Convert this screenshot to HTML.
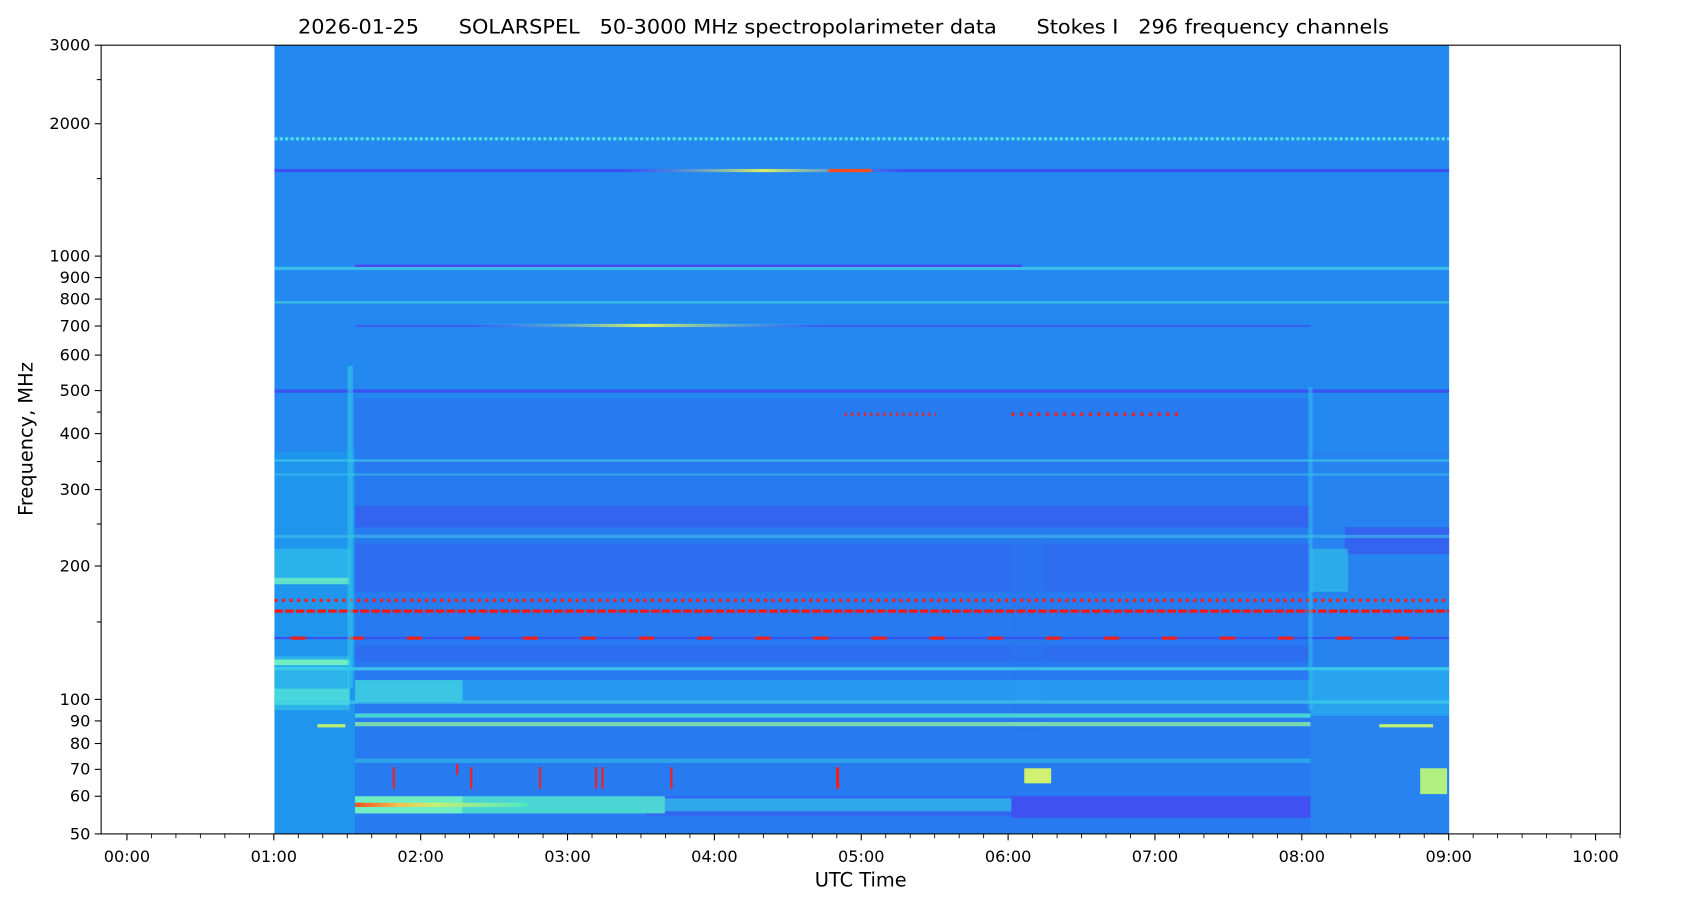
<!DOCTYPE html>
<html><head><meta charset="utf-8"><style>
html,body{margin:0;padding:0;background:#fff;}
svg{display:block;}
text{font-family:"DejaVu Sans","Liberation Sans",sans-serif;fill:#000;}
</style></head><body>
<svg width="1687" height="906" viewBox="0 0 1568 842" preserveAspectRatio="none" xmlns="http://www.w3.org/2000/svg">
<defs>
<clipPath id="c"><rect x="255" y="42" width="1092" height="733"/></clipPath>
<linearGradient id="hb" x1="0" x2="1" y1="0" y2="0">
<stop offset="0" stop-color="#f05020"/><stop offset="0.25" stop-color="#f0c050"/><stop offset="0.45" stop-color="#c8f070"/><stop offset="1" stop-color="#50e8c0"/>
</linearGradient>
<linearGradient id="yl" x1="0" x2="1"><stop offset="0" stop-color="#3fd0f0" stop-opacity="0"/><stop offset="0.5" stop-color="#d8f060"/><stop offset="1" stop-color="#3fd0f0" stop-opacity="0"/></linearGradient>
</defs>
<g clip-path="url(#c)">
<rect x="255" y="42" width="1092" height="733" fill="#2389f0"/>
<rect x="330" y="370" width="888" height="405" fill="#2a72f0" opacity="0.65"/>
<rect x="255" y="420" width="75" height="355" fill="#1f98ee" opacity="0.8"/>
<rect x="1218" y="420" width="129" height="355" fill="#2a7ef0" opacity="0.6"/>
<rect x="330" y="470" width="888" height="20" fill="#3a55f0" opacity="0.6"/>
<rect x="330" y="505" width="888" height="45" fill="#3460f0" opacity="0.5"/>
<rect x="1250" y="490" width="97" height="25" fill="#3a55f0" opacity="0.7"/>
<rect x="330" y="600" width="888" height="15" fill="#3460f0" opacity="0.5"/>
<rect x="940" y="740" width="278" height="20" fill="#4a40f0" opacity="0.7"/>
<rect x="600" y="740" width="340" height="18" fill="#3a58f0" opacity="0.6"/>
<rect x="940" y="500" width="30" height="180" fill="#2a78f0" opacity="0.5"/>
<rect x="255" y="510" width="70" height="30" fill="#30c8e8" opacity="0.6"/>
<rect x="255" y="537" width="70" height="6" fill="#70f0c0" opacity="0.8"/>
<rect x="255" y="610" width="70" height="50" fill="#30c0e8" opacity="0.7"/>
<rect x="255" y="613" width="70" height="5" fill="#70f0c0"/>
<rect x="255" y="640" width="70" height="15" fill="#50e0d8" opacity="0.8"/>
<rect x="330" y="632" width="100" height="20" fill="#40d8e0" opacity="0.8"/>
<rect x="430" y="632" width="788" height="20" fill="#28a0f0" opacity="0.8"/>
<rect x="1218" y="510" width="35" height="40" fill="#30c8e8" opacity="0.6"/>
<rect x="1218" y="620" width="129" height="45" fill="#28b0f0" opacity="0.7"/>
<line x1="255" x2="1347" y1="129" y2="129" stroke="#50e0e0" stroke-width="3" stroke-dasharray="3 2"/>
<rect x="255" y="157" width="1092" height="3" fill="#3a50f0"/>
<rect x="580" y="157" width="260" height="3" fill="url(#yl)"/>
<rect x="770" y="157" width="40" height="3" fill="#f05020"/>
<rect x="255" y="248" width="1092" height="3" fill="#40c8e8" opacity="0.8"/>
<rect x="330" y="246" width="620" height="2" fill="#5040f0"/>
<rect x="255" y="280" width="1092" height="2" fill="#40d0e0" opacity="0.8"/>
<rect x="330" y="302" width="888" height="2" fill="#3a60f0"/>
<rect x="440" y="301" width="320" height="3" fill="url(#yl)"/>
<rect x="255" y="362" width="1092" height="3" fill="#3a50f0"/>
<line x1="785" x2="870" y1="385" y2="385" stroke="#f02020" stroke-width="3" stroke-dasharray="2 4"/>
<line x1="940" x2="1100" y1="385" y2="385" stroke="#f02020" stroke-width="3" stroke-dasharray="3 5"/>
<rect x="255" y="427" width="1092" height="2" fill="#40d0e8" opacity="0.7"/>
<rect x="255" y="440" width="1092" height="2" fill="#40d0e8" opacity="0.5"/>
<rect x="255" y="497" width="1092" height="3" fill="#40c0e8" opacity="0.6"/>
<line x1="255" x2="1347" y1="558" y2="558" stroke="#f02020" stroke-width="3" stroke-dasharray="3 4"/>
<line x1="255" x2="1347" y1="568" y2="568" stroke="#f01818" stroke-width="3" stroke-dasharray="8 2"/>
<rect x="255" y="592" width="1092" height="2" fill="#3a50f0"/>
<line x1="270" x2="1347" y1="593" y2="593" stroke="#f02020" stroke-width="3" stroke-dasharray="14 40"/>
<rect x="255" y="620" width="1092" height="3" fill="#40d0e8" opacity="0.8"/>
<rect x="255" y="651" width="1092" height="3" fill="#40d0e8" opacity="0.7"/>
<rect x="330" y="663" width="888" height="4" fill="#50e8d0" opacity="0.8"/>
<rect x="330" y="671" width="888" height="4" fill="#90f0a0" opacity="0.8"/>
<rect x="295" y="673" width="26" height="3" fill="#c0f070"/>
<rect x="1282" y="673" width="50" height="3" fill="#c0f070"/>
<rect x="330" y="705" width="888" height="4" fill="#30c0e8" opacity="0.6"/>
<rect x="330" y="740" width="100" height="16" fill="#70f0c0"/>
<rect x="430" y="740" width="188" height="16" fill="#50e0d0" opacity="0.9"/>
<rect x="618" y="742" width="322" height="12" fill="#30b8ec" opacity="0.8"/>
<rect x="330" y="746" width="160" height="4" fill="url(#hb)"/>
<rect x="952" y="714" width="25" height="14" fill="#d0f070"/>
<rect x="1320" y="714" width="25" height="24" fill="#b0f080"/>
<g fill="#f02020">
<rect x="365" y="713" width="2" height="20"/><rect x="437" y="713" width="2" height="20"/>
<rect x="501" y="713" width="2" height="20"/><rect x="553" y="713" width="2" height="20"/>
<rect x="559" y="713" width="2" height="20"/><rect x="623" y="713" width="2" height="20"/>
<rect x="777" y="713" width="3" height="20"/><rect x="424" y="710" width="2" height="10"/>
</g>
<rect x="323" y="340" width="5" height="300" fill="#30c8e8" opacity="0.6"/>
<rect x="1216" y="360" width="4" height="300" fill="#30c8e8" opacity="0.5"/>
</g>
<rect x="94" y="42" width="1412" height="733" fill="none" stroke="#000" stroke-width="1"/>
<g stroke="#000" stroke-width="1">
<line x1="88" x2="94" y1="42" y2="42"/><line x1="88" x2="94" y1="115" y2="115"/>
<line x1="88" x2="94" y1="238" y2="238"/><line x1="88" x2="94" y1="258" y2="258"/>
<line x1="88" x2="94" y1="278" y2="278"/><line x1="88" x2="94" y1="303" y2="303"/>
<line x1="88" x2="94" y1="330" y2="330"/><line x1="88" x2="94" y1="363" y2="363"/>
<line x1="88" x2="94" y1="403" y2="403"/><line x1="88" x2="94" y1="455" y2="455"/>
<line x1="88" x2="94" y1="526" y2="526"/><line x1="88" x2="94" y1="650" y2="650"/>
<line x1="88" x2="94" y1="670" y2="670"/><line x1="88" x2="94" y1="691" y2="691"/>
<line x1="88" x2="94" y1="715" y2="715"/><line x1="88" x2="94" y1="740" y2="740"/>
<line x1="88" x2="94" y1="775" y2="775"/>
<line x1="90" x2="94" y1="74" y2="74"/><line x1="90" x2="94" y1="166" y2="166"/>
<line x1="90" x2="94" y1="383" y2="383"/><line x1="90" x2="94" y1="429" y2="429"/>
<line x1="90" x2="94" y1="487" y2="487"/><line x1="90" x2="94" y1="578" y2="578"/>
</g>
<g font-size="15" text-anchor="end">
<text x="84" y="47">3000</text><text x="84" y="120">2000</text><text x="84" y="243">1000</text>
<text x="84" y="263">900</text><text x="84" y="283">800</text><text x="84" y="308">700</text>
<text x="84" y="335">600</text><text x="84" y="368">500</text><text x="84" y="408">400</text>
<text x="84" y="460">300</text><text x="84" y="531">200</text><text x="84" y="655">100</text>
<text x="84" y="675">90</text><text x="84" y="696">80</text><text x="84" y="720">70</text>
<text x="84" y="745">60</text><text x="84" y="780">50</text>
</g>
<g stroke="#000" stroke-width="1">
<line x1="118" x2="118" y1="775" y2="781"/><line x1="254.5" x2="254.5" y1="775" y2="781"/>
<line x1="391" x2="391" y1="775" y2="781"/><line x1="527.5" x2="527.5" y1="775" y2="781"/>
<line x1="664" x2="664" y1="775" y2="781"/><line x1="800.5" x2="800.5" y1="775" y2="781"/>
<line x1="937" x2="937" y1="775" y2="781"/><line x1="1073.5" x2="1073.5" y1="775" y2="781"/>
<line x1="1210" x2="1210" y1="775" y2="781"/><line x1="1346.5" x2="1346.5" y1="775" y2="781"/>
<line x1="1483" x2="1483" y1="775" y2="781"/>
</g>
<g stroke="#000" stroke-width="0.8" id="minor"></g>
<g font-size="15" text-anchor="middle">
<text x="118" y="801">00:00</text><text x="254.5" y="801">01:00</text><text x="391" y="801">02:00</text>
<text x="527.5" y="801">03:00</text><text x="664" y="801">04:00</text><text x="800.5" y="801">05:00</text>
<text x="937" y="801">06:00</text><text x="1073.5" y="801">07:00</text><text x="1210" y="801">08:00</text>
<text x="1346.5" y="801">09:00</text><text x="1483" y="801">10:00</text>
</g>
<text x="800" y="824" font-size="18" text-anchor="middle">UTC Time</text>
<text transform="translate(30,408) rotate(-90)" font-size="18" text-anchor="middle">Frequency, MHz</text>
<text x="277" y="31" font-size="18" textLength="1014" lengthAdjust="spacingAndGlyphs" xml:space="preserve">2026-01-25      SOLARSPEL   50-3000 MHz spectropolarimeter data      Stokes I   296 frequency channels</text>
</svg>
<script>
var g=document.getElementById('minor');
for(var h=0;h<11;h++){for(var k=1;k<6;k++){var x=118+136.5*(h+k/6);if(x>1506)break;
var l=document.createElementNS('http://www.w3.org/2000/svg','line');l.setAttribute('x1',x);l.setAttribute('x2',x);l.setAttribute('y1',775);l.setAttribute('y2',779);g.appendChild(l);}}
</script>
</body></html>
